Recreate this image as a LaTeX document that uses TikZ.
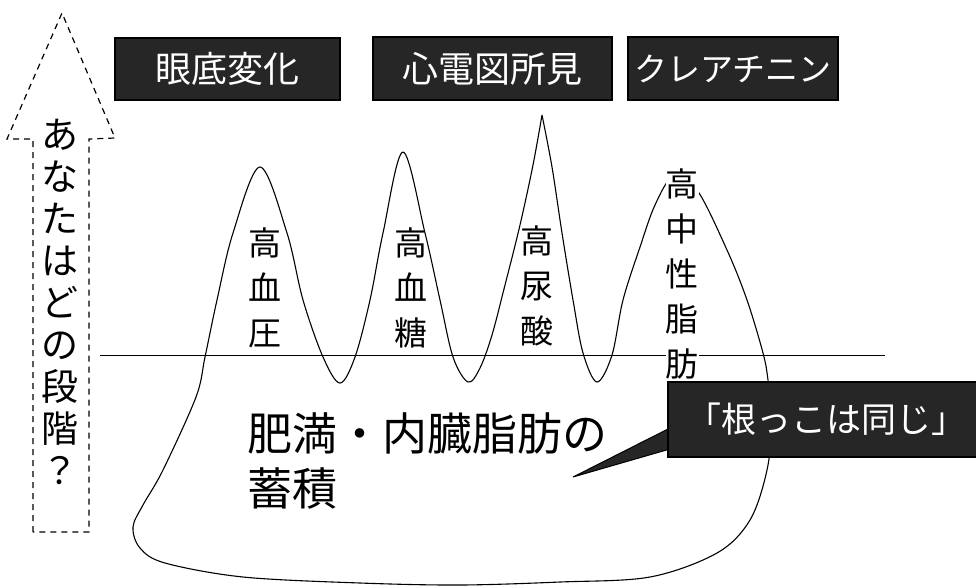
\documentclass[tikz,border=0pt]{standalone}
\usepackage{fontspec}
\setmainfont{Noto Sans CJK JP}
\definecolor{boxfill}{RGB}{38,38,38}
\begin{document}
\begin{tikzpicture}[x=1pt,y=-1pt,
  darkbox/.style={draw=black,line width=1.4pt,fill=boxfill,text=white,inner sep=0pt,
    font=\fontsize{36}{40}\selectfont},
  boxtext/.style={text=white,inner sep=0pt},
  peaklabel/.style={align=center,inner sep=0pt,font=\fontsize{33}{45}\selectfont},
  bigtext/.style={inner sep=0pt,anchor=west,font=\fontsize{45}{55}\selectfont},
  arrowtext/.style={align=center,inner sep=0pt,font=\fontsize{37}{42}\selectfont},
  blob/.style={line width=1.1pt,line join=round},
  dasharrow/.style={line width=1.2pt,dash pattern=on 6pt off 5pt},
  levelline/.style={line width=0.9pt}
]
\clip (0,0) rectangle (976,587);
\fill[white] (0,0) rectangle (976,587);

% dashed arrow
\coordinate (sbl) at (33,532);
\coordinate (sbr) at (89,532);
\coordinate (stl) at (33,139);
\coordinate (str) at (89,139);
\coordinate (hl) at (7,139);
\coordinate (hr) at (115,138);
\coordinate (tip) at (62,13);
\draw[dasharrow] (sbl) -- (stl) -- (hl) -- (tip) -- (hr) -- (str) -- (sbr) -- cycle;
\node[arrowtext] (stage) at (60,302) {あ\\な\\た\\は\\ど\\の\\段\\階\\？};

% level line
\coordinate (lineL) at (100,355);
\coordinate (lineR) at (885,355);
\draw[levelline] (lineL) -- (lineR);

% blob with peaks
\draw[blob] plot[smooth, tension=0.55] coordinates {
  (542,115) (533,165) (520,225) (505,285) (492,335) (480,368) (468,382)
  (453,357) (440,300) (425,233) (403,152) (383,233) (370,300) (355,357) (340,383)
  (323,357) (303,300) (287,233) (260,167) (233,233) (217,300) (205,357) (196,397)
  (163,470) (143,505) (133,527) (140,548) (165,563) (243,577) (360,583) (460,585)
  (560,582) (650,577) (717,553) (750,520) (767,470) (772,420) (768,380)
  (763,353) (747,300) (727,250) (697,190) (673,177) (655,205) (640,247) (623,300)
  (612,355) (597,382) (583,353) (573,300) (562,233) (552,167) (542,115)};

% peak labels
\node[peaklabel] (hbp) at (265,288) {高\\血\\圧};
\node[peaklabel] (hbs) at (411,288) {高\\血\\糖};
\node[peaklabel] (hua) at (537,286) {高\\尿\\酸};
\node[peaklabel,fill=white] (htg) at (682,274) {高\\中\\性\\脂\\肪};

% base text
\node[bigtext] (obes1) at (247,433) {肥満・内臓脂肪の};
\node[bigtext] (obes2) at (247,488) {蓄積};

% top boxes
\node[darkbox,minimum width=225pt,minimum height=62pt] (fundus) at (227.5,69) {眼底変化};
\node[darkbox,minimum width=239pt,minimum height=63pt] (ecg) at (492.5,68.5) {心電図所見};
\node[darkbox,minimum width=210pt,minimum height=63pt,font=\fontsize{33}{40}\selectfont] (crea) at (733,68.5) {クレアチニン};

% callout
\coordinate (ptip) at (573,477);
\coordinate (pb1) at (670,428);
\coordinate (pb2) at (670,449);
\coordinate (cbtl) at (668,382);
\coordinate (cbbr) at (982,457);
\fill[boxfill] (ptip) -- (pb1) -- (pb2) -- cycle;
\draw[line width=1pt] (pb1) -- (ptip) -- (pb2);
\draw[line width=1.4pt,fill=boxfill] (cbtl) rectangle (cbbr);
\node[boxtext,font=\fontsize{35}{40}\selectfont] (root) at (826,419.5) {「根っこは同じ」};
\end{tikzpicture}
\end{document}
